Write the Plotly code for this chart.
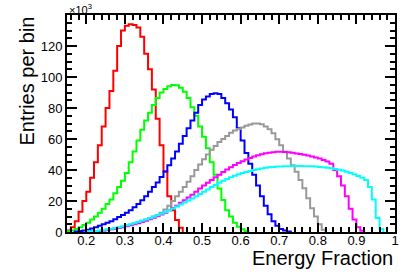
import numpy as np
import plotly.graph_objects as go

# Bin width of all histograms (energy fraction)
bin_width = 0.01

# Histogram contents in units of 10^3 entries, one value per bin, starting at the given left edge
red_start = 0.15
red_vals = [1, 3, 7, 13, 20, 26, 35, 45, 56, 68, 80, 91, 104, 120, 130, 133, 134, 133.5, 132, 126,
            115, 105, 92, 73, 56, 39, 23, 14, 7.7, 2.8]

green_start = 0.15
green_vals = [0.5, 1, 2, 3, 4.5, 6, 8, 10, 12.5, 15, 18, 21, 25, 29, 33, 38, 45, 52, 59, 66,
              72, 77, 82, 86.5, 90, 92.3, 94, 94.8, 94.6, 93, 90.5, 86.5, 80.5, 75, 68, 61.5, 54, 45, 37, 28,
              20.6, 14, 10, 6, 3.4, 1.7, 0.5]

blue_start = 0.17
blue_vals = [0.3, 0.6, 1, 1.5, 2.2, 3, 4, 5, 6, 7, 8.3, 9.7, 11, 12.5, 14, 16, 18, 20.5, 23, 26,
             29, 32, 35.5, 39, 43, 47.5, 52, 57, 62, 67, 72, 77, 82, 85.5, 87.5, 89, 89.5, 89, 86.5, 83,
             79, 74, 67, 59, 51, 44, 37, 30, 23, 17, 11.5, 7, 4, 2, 1, 0.3]

gray_start = 0.20
gray_vals = [0.2, 0.3, 0.5, 0.7, 1, 1.3, 1.7, 2.2, 2.7, 3.3, 4, 4.7, 5.5, 6.3, 7.2, 8, 9, 10, 11, 12.5,
             14.5, 17, 20, 23, 26, 29, 32.5, 36, 40, 43.5, 47, 50, 53, 55.5, 58, 60, 62, 64, 65.5, 66.5,
             67.5, 68.5, 69.3, 70, 70, 69.5, 68, 66.3, 63.7, 59.8, 56, 51.8, 47.5, 43, 38.9, 33.5, 28.2,
             21.7, 15.3, 10, 5, 1.5]

magenta_start = 0.20
magenta_vals = [0.2, 0.3, 0.5, 0.7, 1, 1.3, 1.7, 2.1, 2.6, 3.1,
                3.7, 4.3, 5, 5.7, 6.5, 7.3, 8.2, 9.2, 10.2, 11.3,
                12.5, 14, 15.5, 17, 18.8, 20.5, 22.3, 24, 26, 28,
                30, 31.7, 33.5, 35.3, 37, 38.7, 40.3, 41.8, 43.2, 44.5,
                45.7, 46.8, 47.8, 48.7, 49.5, 50.2, 50.8, 51.2, 51.5, 51.7,
                51.7, 51.6, 51.4, 51.1, 50.7, 50.3, 49.8, 49.3, 48.7, 48,
                47.4, 46.5, 45.5, 44, 40, 36, 30, 23, 15, 8,
                3, 0.8]

cyan_start = 0.20
cyan_vals = [0.3, 0.5, 0.7, 1, 1.3, 1.7, 2.1, 2.6, 3.1, 3.7,
             4.3, 5, 5.7, 6.4, 7.2, 8, 8.9, 9.8, 10.8, 11.8,
             12.9, 14, 15.2, 16.4, 17.7, 19, 20.3, 21.6, 23, 24.5,
             26, 27.5, 29, 30.4, 31.7, 33, 34.2, 35.3, 36.3, 37.2,
             38, 38.7, 39.4, 40, 40.5, 41, 41.4, 41.7, 42, 42.2,
             42.3, 42.4, 42.5, 42.5, 42.6, 42.6, 42.5, 42.5, 42.4, 42.2,
             42, 41.8, 41.5, 41.1, 40.7, 40.2, 39.6, 38.9, 38.1, 37.2,
             36.2, 35, 33.5, 29, 21, 9, 2]

# Axis ticks and labels
x_tickvals = [0.2, 0.3, 0.4, 0.5, 0.6, 0.7, 0.8, 0.9, 1.0]
x_ticktext = ["0.2", "0.3", "0.4", "0.5", "0.6", "0.7", "0.8", "0.9", "1"]
y_tickvals = [0, 20, 40, 60, 80, 100, 120]
y_ticktext = ["0", "20", "40", "60", "80", "100", "120"]

series = [
    ("red", red_start, red_vals, "#ff0000"),
    ("green", green_start, green_vals, "#00ff00"),
    ("blue", blue_start, blue_vals, "#0000ff"),
    ("gray", gray_start, gray_vals, "#999999"),
    ("magenta", magenta_start, magenta_vals, "#ff00ff"),
    ("cyan", cyan_start, cyan_vals, "#00ffff"),
]

FONT = "Liberation Sans, Arial, Helvetica, sans-serif"

fig = go.Figure()
for name, start, vals, color in series:
    n = len(vals)
    edges = np.round(start + bin_width * np.arange(n + 1), 4)
    xs = [edges[0]] + list(edges[:-1]) + [edges[-1]]
    ys = [0] + list(vals) + [0]
    fig.add_trace(go.Scatter(x=xs, y=ys, mode="lines", line=dict(color=color, width=2, shape="hv"),
                             name=name, showlegend=False, hoverinfo="skip"))

axis_common = dict(showline=True, linecolor="black", linewidth=2, mirror="allticks",
                   ticks="inside", tickcolor="black", tickwidth=1.5, showgrid=False, zeroline=False,
                   tickfont=dict(family=FONT, size=13, color="black"))

fig.update_xaxes(range=[0.15, 1.0], tickmode="array", tickvals=x_tickvals, ticktext=x_ticktext,
                 ticklen=9, ticklabelstandoff=-5,
                 minor=dict(ticks="inside", ticklen=5, dtick=0.02, tick0=0,
                            tickcolor="black", tickwidth=1.5, showgrid=False),
                 **axis_common)
fig.update_yaxes(range=[0, 140], tickmode="array", tickvals=y_tickvals, ticktext=y_ticktext,
                 ticklen=10, minor=dict(ticks="inside", ticklen=5, dtick=5, tick0=0,
                                        tickcolor="black", tickwidth=1.5, showgrid=False),
                 **axis_common)

fig.add_annotation(text="Entries per bin", xref="paper", yref="paper", x=-0.125, y=1.0,
                   xanchor="center", yanchor="top", textangle=-90, showarrow=False,
                   font=dict(family=FONT, size=20, color="black"))
fig.add_annotation(text="Energy Fraction", xref="paper", yref="paper", x=1.0, y=0,
                   xanchor="right", yanchor="top", yshift=-13, showarrow=False,
                   font=dict(family=FONT, size=20, color="black"))
fig.add_annotation(text="×10<sup>3</sup>", xref="paper", yref="paper", x=0, y=1.0,
                   xanchor="left", yanchor="bottom", yshift=-3, showarrow=False,
                   font=dict(family=FONT, size=11, color="black"))

fig.update_layout(width=415, height=277, margin=dict(l=67, r=20, t=15, b=45),
                  paper_bgcolor="white", plot_bgcolor="white", showlegend=False)

fig.write_html("out.html", config={"displayModeBar": False},
               post_script="document.body.style.margin='0';")
